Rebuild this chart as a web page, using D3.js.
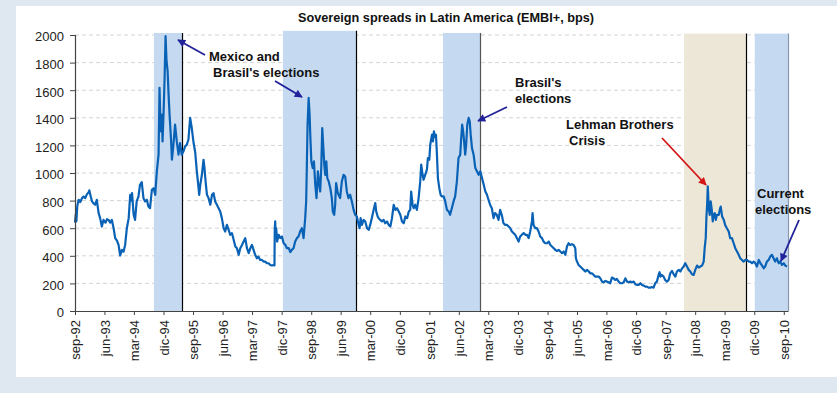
<!DOCTYPE html>
<html>
<head>
<meta charset="utf-8">
<script src="https://cdn.jsdelivr.net/npm/d3@7"></script>
<style>
  html, body { margin: 0; padding: 0; background: #dfe8f0; }
  svg { display: block; font-family: "Liberation Sans", Arial, sans-serif; }
</style>
</head>
<body>
<svg id="chart" width="837" height="393"></svg>
<script>
// ---------------- DATA ----------------
const title = "Sovereign spreads in Latin America (EMBI+, bps)";

const dates = [
"1992-09-01","1992-09-08","1992-09-14","1992-09-22","1992-10-05","1992-10-20","1992-11-05","1992-11-20","1992-12-05","1992-12-20",
"1993-01-06","1993-01-12","1993-01-25","1993-02-06","1993-02-20","1993-03-07","1993-03-22","1993-04-08","1993-04-22","1993-05-08",
"1993-05-23","1993-06-10","1993-06-25","1993-07-09","1993-07-25","1993-08-09","1993-08-25","1993-09-09","1993-09-25","1993-10-10",
"1993-10-25","1993-11-10","1993-11-25","1993-12-10","1993-12-26","1994-01-12","1994-01-26","1994-02-05","1994-02-12","1994-02-27",
"1994-03-12","1994-03-27","1994-04-13","1994-04-27","1994-05-13","1994-05-29","1994-06-13","1994-06-29","1994-07-14","1994-07-29",
"1994-08-15","1994-08-31","1994-09-15","1994-09-30","1994-10-16","1994-10-25","1994-11-04","1994-11-16","1994-11-22","1994-12-02",
"1994-12-11","1994-12-20","1994-12-29","1995-01-08","1995-01-17","1995-01-26","1995-02-08","1995-02-17","1995-03-03","1995-03-18",
"1995-04-03","1995-04-19","1995-05-03","1995-05-19","1995-06-04","1995-06-19","1995-07-05","1995-07-20","1995-08-05","1995-08-20",
"1995-09-06","1995-09-21","1995-10-06","1995-10-22","1995-10-28","1995-11-07","1995-11-22","1995-12-07","1995-12-16","1995-12-29",
"1996-01-08","1996-01-23","1996-02-08","1996-02-24","1996-03-09","1996-03-24","1996-04-09","1996-04-25","1996-05-10","1996-05-25",
"1996-06-11","1996-06-25","1996-07-11","1996-07-27","1996-08-11","1996-08-27","1996-09-12","1996-09-27","1996-10-12","1996-10-28",
"1996-11-12","1996-11-28","1996-12-13","1996-12-28","1997-01-13","1997-01-29","1997-02-13","1997-02-28","1997-03-15","1997-03-30",
"1997-04-15","1997-04-30","1997-05-15","1997-06-01","1997-06-16","1997-07-01","1997-07-17","1997-08-02","1997-08-17","1997-09-02",
"1997-09-18","1997-09-25","1997-09-28","1997-10-02","1997-10-05","1997-10-11","1997-10-20","1997-11-03","1997-11-18","1997-12-03",
"1997-12-19","1998-01-04","1998-01-19","1998-02-05","1998-02-19","1998-03-05","1998-03-21","1998-04-05","1998-04-21","1998-05-06",
"1998-05-21","1998-06-06","1998-06-22","1998-07-07","1998-07-16","1998-07-22","1998-07-29","1998-08-08","1998-08-17","1998-08-23",
"1998-09-02","1998-09-15","1998-09-26","1998-10-08","1998-10-20","1998-11-02","1998-11-14","1998-11-23","1998-12-03","1998-12-12",
"1998-12-21","1998-12-31","1999-01-09","1999-01-19","1999-01-28","1999-02-10","1999-02-25","1999-03-11","1999-03-20","1999-04-02",
"1999-04-11","1999-04-20","1999-05-03","1999-05-12","1999-05-27","1999-06-12","1999-06-28","1999-07-13","1999-07-28","1999-08-13",
"1999-08-28","1999-09-13","1999-09-29","1999-10-14","1999-10-29","1999-11-15","1999-11-24","1999-12-03","1999-12-15","1999-12-31",
"2000-01-15","2000-02-01","2000-02-16","2000-03-01","2000-03-16","2000-04-02","2000-04-17","2000-04-26","2000-05-09","2000-05-18",
"2000-06-02","2000-06-18","2000-07-04","2000-07-18","2000-08-04","2000-08-19","2000-09-04","2000-09-19","2000-10-05","2000-10-20",
"2000-11-05","2000-11-21","2000-12-05","2000-12-21","2001-01-06","2001-01-21","2001-02-06","2001-02-22","2001-03-07","2001-03-16",
"2001-03-29","2001-04-08","2001-04-22","2001-05-08","2001-05-24","2001-06-08","2001-06-17","2001-06-30","2001-07-09","2001-07-24",
"2001-08-09","2001-08-18","2001-08-31","2001-09-09","2001-09-25","2001-10-04","2001-10-13","2001-10-22","2001-11-01","2001-11-10",
"2001-11-19","2001-12-02","2001-12-14","2001-12-26","2002-01-11","2002-01-26","2002-02-11","2002-02-27","2002-03-12","2002-03-28",
"2002-04-13","2002-04-28","2002-05-14","2002-05-29","2002-06-14","2002-06-23","2002-07-02","2002-07-11","2002-07-20","2002-07-30",
"2002-08-08","2002-08-18","2002-08-31","2002-09-10","2002-09-19","2002-10-01","2002-10-16","2002-11-01","2002-11-16","2002-12-02",
"2002-12-17","2003-01-02","2003-01-18","2003-02-02","2003-02-17","2003-03-03","2003-03-18","2003-04-03","2003-04-19","2003-05-03",
"2003-05-19","2003-06-04","2003-06-19","2003-07-04","2003-07-20","2003-08-05","2003-08-20","2003-09-06","2003-09-21","2003-10-06",
"2003-10-22","2003-11-06","2003-11-22","2003-12-07","2003-12-22","2004-01-07","2004-01-23","2004-02-08","2004-02-23","2004-03-09",
"2004-03-24","2004-04-09","2004-04-15","2004-04-24","2004-05-10","2004-05-25","2004-06-10","2004-06-25","2004-07-11","2004-07-26",
"2004-08-11","2004-08-27","2004-09-12","2004-09-27","2004-10-12","2004-10-28","2004-11-12","2004-11-28","2004-12-13","2004-12-28",
"2005-01-13","2005-01-29","2005-02-13","2005-02-28","2005-03-15","2005-03-30","2005-04-15","2005-05-01","2005-05-16","2005-05-22",
"2005-06-01","2005-06-16","2005-07-01","2005-07-17","2005-08-02","2005-08-17","2005-09-02","2005-09-18","2005-10-02","2005-10-18",
"2005-11-03","2005-11-18","2005-12-03","2005-12-19","2006-01-03","2006-01-19","2006-02-04","2006-02-19","2006-03-05","2006-03-21",
"2006-04-05","2006-04-21","2006-05-06","2006-05-21","2006-06-06","2006-06-22","2006-07-07","2006-07-23","2006-08-08","2006-08-23",
"2006-09-08","2006-09-24","2006-10-08","2006-10-24","2006-11-09","2006-11-24","2006-12-10","2006-12-25","2007-01-10","2007-01-25",
"2007-02-10","2007-02-25","2007-03-11","2007-03-27","2007-04-11","2007-04-27","2007-05-12","2007-05-27","2007-06-12","2007-06-28",
"2007-07-07","2007-07-16","2007-07-28","2007-08-13","2007-08-28","2007-09-13","2007-09-29","2007-10-14","2007-10-30","2007-11-15",
"2007-11-30","2007-12-15","2008-01-01","2008-01-16","2008-02-01","2008-02-16","2008-03-01","2008-03-17","2008-04-02","2008-04-17",
"2008-05-02","2008-05-18","2008-06-02","2008-06-18","2008-07-04","2008-07-18","2008-08-04","2008-08-19","2008-08-28","2008-09-07",
"2008-09-13","2008-09-20","2008-09-26","2008-10-05","2008-10-14","2008-10-23","2008-11-02","2008-11-11","2008-11-20","2008-11-30",
"2008-12-09","2008-12-20","2009-01-06","2009-01-15","2009-01-24","2009-02-06","2009-02-22","2009-03-06","2009-03-22","2009-04-08",
"2009-04-22","2009-05-08","2009-05-24","2009-06-08","2009-06-24","2009-07-10","2009-07-24","2009-08-09","2009-08-25","2009-09-09",
"2009-09-25","2009-10-10","2009-10-25","2009-11-10","2009-11-26","2009-12-11","2009-12-26","2010-01-12","2010-01-27","2010-02-12",
"2010-02-27","2010-03-12","2010-03-28","2010-04-13","2010-04-28","2010-05-14","2010-05-29","2010-06-13","2010-06-29","2010-07-15",
"2010-07-30","2010-08-15","2010-09-01","2010-09-15","2010-10-01"
];

const spreads = [
640,700,650,760,806,790,818,830,818,845,
861,874,830,794,780,770,806,709,673,612,
660,640,665,660,640,660,600,528,510,479,
402,443,430,479,600,673,842,800,854,697,
660,794,830,915,934,818,794,806,757,745,
878,890,842,1012,1133,1617,1302,1423,1229,1447,
1689,1992,1810,1738,1568,1423,1254,1096,1205,1350,
1229,1133,1217,1133,1157,1193,1205,1241,1399,1326,
1217,1150,1012,890,842,915,987,1096,1036,915,
842,818,770,842,854,794,770,745,721,673,
600,576,624,588,552,564,515,467,455,407,
455,479,503,528,455,419,455,479,443,407,
382,394,370,370,358,358,346,346,334,329,
334,330,600,650,552,600,503,552,528,540,
491,479,455,455,426,443,455,503,528,540,
576,600,528,673,794,1036,1350,1544,1423,1278,
1084,1036,1084,920,818,1012,915,866,1036,1326,
1205,1060,987,1084,963,939,890,818,721,697,
770,927,866,842,818,939,987,975,866,818,
842,794,733,697,685,624,600,673,624,660,
649,600,588,624,673,733,782,721,685,673,
660,649,660,636,649,624,612,673,770,733,
745,721,697,649,636,685,673,721,733,866,
770,745,770,733,818,939,1060,987,951,987,
1024,1108,1096,1205,1278,1229,1302,1260,1278,1133,
963,890,842,830,830,794,733,721,697,745,
794,830,939,1108,1133,1254,1350,1302,1229,1133,
1205,1350,1399,1375,1278,1181,1133,1036,1012,987,
1012,963,915,866,842,806,770,745,673,709,
697,660,733,697,636,624,624,612,600,576,
564,552,528,503,540,552,564,552,552,528,
576,649,709,624,600,600,576,540,528,503,
491,491,503,479,467,455,443,435,443,431,
419,431,407,467,491,479,484,479,455,382,
358,334,322,310,298,286,298,286,273,273,
261,249,249,249,237,213,208,218,213,208,
201,242,237,225,232,213,201,201,208,237,
213,208,213,208,213,194,189,189,201,189,
184,177,177,169,169,174,169,201,213,261,
281,249,261,249,225,213,225,273,290,266,
249,286,298,286,310,322,346,322,298,286,
266,261,298,329,315,322,329,358,455,528,
673,770,903,745,697,794,733,649,697,709,
660,697,697,733,757,685,660,624,600,576,
528,528,491,455,431,407,382,370,358,370,
370,358,358,346,358,346,322,370,346,329,
310,322,358,370,394,407,382,358,382,346,
358,334,346,329,322
];

const yTicks = [0,200,400,600,800,1000,1200,1400,1600,1800,2000];

const xTickDates = ["1992-09-01","1993-06-01","1994-03-01","1994-12-01","1995-09-01","1996-06-01","1997-03-01",
  "1997-12-01","1998-09-01","1999-06-01","2000-03-01","2000-12-01","2001-09-01","2002-06-01","2003-03-01",
  "2003-12-01","2004-09-01","2005-06-01","2006-03-01","2006-12-01","2007-09-01","2008-06-01","2009-03-01",
  "2009-12-01","2010-09-01"];
const xTickLabels = ["sep-92","jun-93","mar-94","dic-94","sep-95","jun-96","mar-97","dic-97","sep-98","jun-99",
  "mar-00","dic-00","sep-01","jun-02","mar-03","dic-03","sep-04","jun-05","mar-06","dic-06","sep-07","jun-08",
  "mar-09","dic-09","sep-10"];

// shaded event windows
const bandStarts = ["1994-09-03","1997-12-12","2002-01-05","2008-02-19","2009-12-06"];
const bandEnds   = ["1995-05-26","1999-10-22","2002-12-17","2009-09-18","2010-10-10"];
const bandTops   = [2015, 2030, 2015, 2010, 2010];
const bandKinds  = ["election","election","election","crisis","election"];

const domainStart = "1992-09-01";
const domainEnd = "2010-10-10";

// ---------------- DRAW ----------------
const parse = d3.utcParse("%Y-%m-%d");
const W = 837, H = 393;
const svg = d3.select("#chart");

svg.append("rect").attr("x", 0).attr("y", 0).attr("width", W).attr("height", H).attr("fill", "#dfe8f0");
svg.append("rect").attr("x", 16).attr("y", 6).attr("width", W - 16).attr("height", 371).attr("fill", "#ffffff");

const x = d3.scaleUtc().domain([parse(domainStart), parse(domainEnd)]).range([75, 788]);
const y = d3.scaleLinear().domain([0, 2000]).range([311, 35]);

// grid
svg.append("g").selectAll("line").data(yTicks.filter(v => v > 0)).join("line")
  .attr("x1", x.range()[0]).attr("x2", x.range()[1])
  .attr("y1", d => y(d)).attr("y2", d => y(d))
  .attr("stroke", "#d4d4d4").attr("stroke-width", 1).attr("stroke-dasharray", "4,3");

// bands
const bandFill = { election: "#c5daf1", crisis: "#ede7d7" };
const bandEdge = ["#000000", "#000000", "#555555", "#000000", "#8797ad"];
const bands = bandStarts.map((s, i) => ({ s: parse(s), e: parse(bandEnds[i]), top: bandTops[i], kind: bandKinds[i], edge: bandEdge[i] }));
const gb = svg.append("g");
gb.selectAll("rect").data(bands).join("rect")
  .attr("x", d => x(d.s)).attr("width", d => x(d.e) - x(d.s))
  .attr("y", d => y(d.top)).attr("height", d => y(0) - y(d.top))
  .attr("fill", d => bandFill[d.kind]);
gb.selectAll("line").data(bands).join("line")
  .attr("x1", d => Math.round(x(d.e)) + 0.5).attr("x2", d => Math.round(x(d.e)) + 0.5)
  .attr("y1", d => y(d.top)).attr("y2", y(0))
  .attr("stroke", d => d.edge).attr("stroke-width", 1.2);

// line
const series = dates.map((d, i) => ({ date: parse(d), v: spreads[i] }));
svg.append("path").datum(series)
  .attr("fill", "none").attr("stroke", "#0a62b6").attr("stroke-width", 2.2)
  .attr("stroke-linejoin", "round")
  .attr("d", d3.line().x(d => x(d.date)).y(d => y(d.v)));

// y axis
const yAxis = d3.axisLeft(y).tickValues(yTicks).tickSize(5).tickPadding(6).tickFormat(d3.format("d"));
const gy = svg.append("g").attr("transform", "translate(75,0)").call(yAxis);
gy.select(".domain").attr("stroke", "#444").attr("stroke-width", 1.2);
gy.selectAll(".tick line").attr("stroke", "#444");
gy.selectAll(".tick text").attr("font-size", 13).attr("fill", "#222").attr("dy", "0.45em")
  .attr("font-family", "'Liberation Sans', Arial, sans-serif");

// x axis
const tickMap = new Map(xTickDates.map((d, i) => [+parse(d), xTickLabels[i]]));
const xAxis = d3.axisBottom(x).tickValues(xTickDates.map(parse)).tickSize(4).tickSizeOuter(0)
  .tickFormat(d => tickMap.get(+d));
const gx = svg.append("g").attr("transform", "translate(0,311)").call(xAxis);
gx.select(".domain").attr("stroke", "#444").attr("stroke-width", 1.2);
gx.selectAll(".tick line").attr("stroke", "#444");
gx.selectAll(".tick text")
  .attr("font-size", 13).attr("fill", "#222")
  .attr("font-family", "'Liberation Sans', Arial, sans-serif")
  .attr("text-anchor", "end").attr("transform", "translate(0,9) rotate(-90)")
  .attr("x", 0).attr("y", 0).attr("dy", "0.36em");

// title
svg.append("text").attr("x", 446).attr("y", 22).attr("text-anchor", "middle")
  .attr("font-size", 12.7).attr("font-weight", "bold").attr("fill", "#111").text(title);

// arrows
const defs = svg.append("defs");
function marker(id, color) {
  defs.append("marker").attr("id", id).attr("viewBox", "0 0 10 10")
    .attr("refX", 9).attr("refY", 5).attr("markerUnits", "userSpaceOnUse")
    .attr("markerWidth", 10).attr("markerHeight", 8).attr("orient", "auto")
    .append("path").attr("d", "M0,0 L10,5 L0,10 z").attr("fill", color);
}
marker("navy", "#22229a");
marker("red", "#d41515");

const arrows = [
  { x1: 205, y1: 55, x2: 178, y2: 40, c: "#22229a", m: "navy" },
  { x1: 275, y1: 81, x2: 302, y2: 97, c: "#22229a", m: "navy" },
  { x1: 507, y1: 107, x2: 478, y2: 121, c: "#22229a", m: "navy" },
  { x1: 662, y1: 138, x2: 706, y2: 185, c: "#d41515", m: "red" },
  { x1: 799, y1: 220, x2: 781, y2: 261, c: "#22229a", m: "navy" }
];
svg.append("g").selectAll("line").data(arrows).join("line")
  .attr("x1", d => d.x1).attr("y1", d => d.y1).attr("x2", d => d.x2).attr("y2", d => d.y2)
  .attr("stroke", d => d.c).attr("stroke-width", 1.8).attr("marker-end", d => `url(#${d.m})`);

// annotations
const notes = [
  { x: 209, y: 61, t: "Mexico and" },
  { x: 213, y: 77, t: "Brasil's elections" },
  { x: 515, y: 87, t: "Brasil's" },
  { x: 515, y: 103, t: "elections" },
  { x: 566, y: 129, t: "Lehman Brothers" },
  { x: 569, y: 145, t: "Crisis" },
  { x: 757, y: 198, t: "Current" },
  { x: 755, y: 214, t: "elections" }
];
svg.append("g").selectAll("text").data(notes).join("text")
  .attr("x", d => d.x).attr("y", d => d.y).attr("font-size", 13).attr("font-weight", "bold")
  .attr("fill", "#111").text(d => d.t);
</script>
</body>
</html>
